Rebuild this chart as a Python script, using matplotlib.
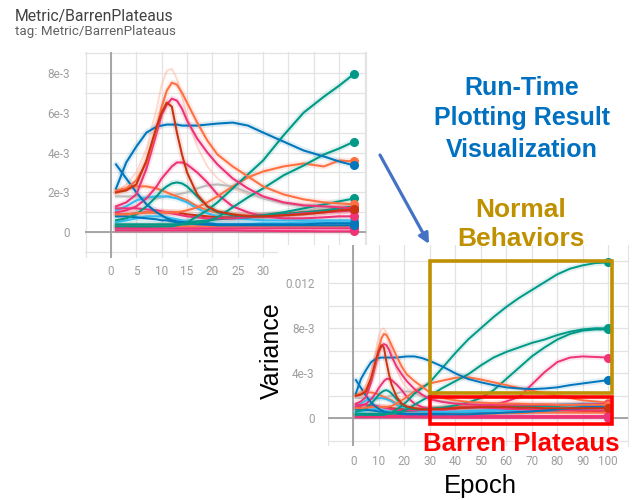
import numpy as np
import matplotlib
matplotlib.use("Agg")
import matplotlib.pyplot as plt
from matplotlib.patches import Rectangle

# ---------------- palette (TensorBoard run colours) ----------------
ORANGE, BLUE, RED, CYAN = "#ff7043", "#0077bb", "#cc3311", "#33bbee"
MAGENTA, TEAL, GREY, PEACH = "#ee3377", "#009988", "#bbbbbb", "#ffab91"

# ---------------- top snapshot (epochs 1..48), values in 1e-3 ----------------
T_EP = [1, 3, 5, 7, 9, 10, 11, 12, 13, 14, 15, 17, 19, 21, 24, 27, 30, 34, 38, 42, 45, 48]
t_orange_peak = [2.0, 2.2, 2.6, 3.5, 5.2, 6.3, 7.1, 7.5, 7.4, 7.0, 6.5, 5.5, 4.6, 3.9, 3.3, 2.8, 2.3, 1.9, 1.65, 1.5, 1.45, 1.4]
t_raw_peak = [2.0, 2.4, 3.0, 4.2, 6.2, 7.4, 8.1, 8.2, 7.7, 6.8, 5.8, 4.3, 3.3, 2.7, 2.2, 1.9, 1.7, 1.5, 1.4, 1.35, 1.3, 1.3]
t_red_peak = [2.0, 2.1, 2.4, 3.6, 5.3, 6.0, 6.5, 6.3, 5.0, 3.9, 3.0, 1.9, 1.3, 1.05, 0.9, 0.8, 0.8, 0.85, 0.9, 1.0, 1.1, 1.15]
t_magenta_peak = [1.3, 1.5, 1.9, 3.2, 5.0, 5.9, 6.4, 6.7, 6.6, 6.2, 5.6, 4.7, 4.0, 3.4, 2.7, 2.2, 1.8, 1.5, 1.35, 1.3, 1.25, 1.2]
t_magenta_bump = [1.0, 1.1, 1.3, 1.7, 2.3, 2.7, 3.0, 3.3, 3.5, 3.5, 3.4, 3.0, 2.5, 1.9, 1.3, 1.0, 0.8, 0.7, 0.7, 0.75, 0.8, 0.8]
t_blue_hump = [2.2, 3.5, 4.3, 5.0, 5.3, 5.35, 5.4, 5.4, 5.4, 5.35, 5.35, 5.35, 5.4, 5.45, 5.5, 5.35, 5.0, 4.55, 4.1, 3.8, 3.55, 3.35]
t_blue_drop = [3.4, 2.7, 2.0, 1.4, 1.0, 0.85, 0.7, 0.6, 0.55, 0.5, 0.45, 0.4, 0.38, 0.35, 0.35, 0.35, 0.35, 0.35, 0.35, 0.35, 0.35, 0.35]
t_teal_fast = [0.3, 0.3, 0.3, 0.3, 0.3, 0.3, 0.3, 0.3, 0.35, 0.4, 0.5, 0.8, 1.1, 1.5, 2.2, 2.9, 3.6, 4.85, 6.0, 6.8, 7.35, 7.95]
t_teal_slow = [0.4, 0.4, 0.4, 0.4, 0.4, 0.4, 0.4, 0.4, 0.4, 0.4, 0.4, 0.45, 0.55, 0.75, 1.25, 1.75, 2.2, 2.85, 3.35, 3.9, 4.2, 4.55]
t_orange_rise = [0.9, 0.9, 0.95, 1.0, 1.0, 1.0, 1.0, 1.0, 1.0, 1.05, 1.1, 1.25, 1.5, 1.8, 2.3, 2.75, 3.05, 3.3, 3.45, 3.3, 3.6, 3.55]
t_teal_bump = [0.6, 0.7, 0.9, 1.3, 1.8, 2.1, 2.3, 2.45, 2.5, 2.45, 2.3, 1.8, 1.3, 1.0, 0.85, 0.8, 0.85, 1.0, 1.2, 1.4, 1.55, 1.7]
t_grey = [1.8, 1.8, 1.8, 1.7, 1.7, 1.75, 1.8, 1.85, 1.9, 1.95, 2.0, 2.2, 2.35, 2.4, 2.3, 2.0, 1.7, 1.45, 1.3, 1.25, 1.2, 1.2]
t_orange_flat = [2.1, 2.2, 2.3, 2.3, 2.2, 2.1, 2.0, 1.9, 1.8, 1.7, 1.6, 1.3, 1.1, 1.0, 0.9, 0.85, 0.85, 0.9, 1.0, 1.1, 1.2, 1.25]
t_cyan = [1.1, 1.3, 1.6, 1.75, 1.8, 1.8, 1.8, 1.75, 1.7, 1.6, 1.5, 1.2, 0.95, 0.8, 0.7, 0.65, 0.6, 0.6, 0.6, 0.6, 0.6, 0.6]
t_red_low = [0.9, 0.9, 0.95, 1.0, 1.0, 1.0, 1.0, 1.0, 1.0, 0.95, 0.9, 0.85, 0.8, 0.75, 0.75, 0.8, 0.85, 0.9, 1.0, 1.05, 1.1, 1.1]
t_cyan_low = [0.5, 0.6, 0.7, 0.8, 0.8, 0.8, 0.75, 0.7, 0.65, 0.6, 0.55, 0.5, 0.45, 0.4, 0.4, 0.4, 0.45, 0.45, 0.5, 0.5, 0.5, 0.5]
t_blue_low = [0.8, 0.8, 0.75, 0.7, 0.65, 0.6, 0.6, 0.55, 0.5, 0.5, 0.5, 0.45, 0.45, 0.4, 0.4, 0.4, 0.4, 0.4, 0.4, 0.45, 0.45, 0.45]
t_teal_low = [0.2, 0.2, 0.2, 0.25, 0.3, 0.3, 0.35, 0.35, 0.4, 0.45, 0.5, 0.55, 0.6, 0.65, 0.7, 0.75, 0.8, 0.9, 1.0, 1.1, 1.2, 1.3]
t_magenta_mid = [1.2, 1.2, 1.2, 1.15, 1.1, 1.05, 1.0, 0.95, 0.9, 0.85, 0.8, 0.75, 0.7, 0.7, 0.7, 0.75, 0.8, 0.85, 0.95, 1.0, 1.05, 1.1]
t_orange_low = [0.35, 0.35, 0.35, 0.35, 0.35, 0.35, 0.35, 0.35, 0.3, 0.3, 0.3, 0.3, 0.3, 0.3, 0.3, 0.3, 0.3, 0.3, 0.3, 0.3, 0.3, 0.3]
t_pink_low = [0.22, 0.22, 0.2, 0.2, 0.2, 0.2, 0.2, 0.2, 0.2, 0.2, 0.2, 0.2, 0.2, 0.2, 0.2, 0.2, 0.2, 0.2, 0.2, 0.2, 0.2, 0.2]
t_magenta_low = [0.1, 0.1, 0.1, 0.1, 0.1, 0.1, 0.1, 0.1, 0.1, 0.1, 0.1, 0.1, 0.1, 0.1, 0.1, 0.08, 0.08, 0.06, 0.06, 0.05, 0.05, 0.05]

# ---------------- bottom (epochs 1..100), values in 1e-3 ----------------
B_EP = [1, 3, 5, 7, 9, 10, 11, 12, 13, 14, 15, 17, 19, 21, 24, 27, 30,
        35, 40, 45, 50, 55, 60, 65, 70, 75, 80, 85, 90, 95, 100]
b_orange_peak = [2.0, 2.2, 2.6, 3.5, 5.2, 6.3, 7.1, 7.5, 7.4, 7.0, 6.5, 5.5, 4.6, 3.9, 3.3, 2.8, 2.3,
                 1.8, 1.6, 1.45, 1.4, 1.35, 1.3, 1.3, 1.25, 1.25, 1.2, 1.2, 1.2, 1.2, 1.2]
b_raw_peak = [2.0, 2.4, 3.0, 4.2, 6.2, 7.4, 7.9, 8.0, 7.6, 6.8, 5.8, 4.3, 3.3, 2.7, 2.2, 1.9, 1.7,
              1.5, 1.4, 1.35, 1.3, 1.3, 1.3, 1.25, 1.25, 1.2, 1.2, 1.2, 1.2, 1.2, 1.2]
b_red_peak = [2.0, 2.1, 2.4, 3.6, 5.3, 6.0, 6.5, 6.3, 5.0, 3.9, 3.0, 1.9, 1.3, 1.05, 0.9, 0.8, 0.8,
              0.85, 0.9, 0.95, 1.0, 1.0, 1.0, 0.95, 0.95, 0.9, 0.9, 0.9, 0.9, 0.9, 0.9]
b_magenta_peak = [1.3, 1.5, 1.9, 3.2, 5.0, 5.9, 6.4, 6.6, 6.5, 6.1, 5.5, 4.6, 3.9, 3.3, 2.6, 2.1, 1.7,
                  1.45, 1.3, 1.25, 1.2, 1.2, 1.2, 1.2, 1.2, 1.2, 1.2, 1.2, 1.25, 1.25, 1.3]
b_magenta_rise = [1.0, 1.1, 1.3, 1.7, 2.3, 2.7, 3.0, 3.3, 3.5, 3.5, 3.4, 3.0, 2.5, 1.9, 1.3, 1.0, 0.8,
                  0.75, 0.85, 1.0, 1.1, 1.2, 1.5, 1.9, 3.0, 4.1, 5.0, 5.4, 5.5, 5.45, 5.4]
b_blue_hump = [2.2, 3.5, 4.3, 5.0, 5.3, 5.35, 5.4, 5.4, 5.4, 5.4, 5.4, 5.4, 5.45, 5.5, 5.5, 5.35, 5.1,
               4.6, 4.0, 3.5, 3.2, 2.95, 2.75, 2.65, 2.6, 2.65, 2.75, 2.95, 3.1, 3.25, 3.4]
b_blue_drop = [3.4, 2.7, 2.0, 1.4, 1.0, 0.85, 0.7, 0.6, 0.55, 0.5, 0.45, 0.4, 0.38, 0.35, 0.35, 0.35, 0.35,
               0.35, 0.35, 0.35, 0.4, 0.45, 0.5, 0.55, 0.6, 0.7, 0.8, 0.9, 1.0, 1.05, 1.1]
b_teal_fast = [0.3, 0.3, 0.3, 0.3, 0.3, 0.3, 0.3, 0.3, 0.35, 0.4, 0.5, 0.8, 1.1, 1.5, 2.2, 2.7, 3.2,
               4.5, 5.8, 7.0, 8.0, 9.0, 9.9, 10.7, 11.4, 12.1, 12.8, 13.3, 13.6, 13.8, 13.85]
b_teal_slow = [0.4, 0.4, 0.4, 0.4, 0.4, 0.4, 0.4, 0.4, 0.4, 0.4, 0.4, 0.5, 0.6, 0.8, 1.2, 1.6, 2.0,
               2.7, 3.3, 3.9, 4.7, 5.4, 5.9, 6.3, 6.7, 7.0, 7.4, 7.7, 7.9, 8.0, 8.0]
b_teal_late = [0.6, 0.7, 0.9, 1.3, 1.8, 2.1, 2.3, 2.45, 2.5, 2.4, 2.2, 1.7, 1.2, 0.95, 0.8, 0.8, 0.85,
               0.95, 1.15, 1.4, 1.8, 2.5, 3.5, 4.5, 5.5, 6.3, 7.0, 7.5, 7.8, 7.9, 7.9]
b_orange_rise = [0.9, 0.9, 0.95, 1.0, 1.0, 1.0, 1.0, 1.0, 1.0, 1.05, 1.1, 1.3, 1.6, 1.9, 2.4, 2.8, 3.1,
                 3.35, 3.6, 3.65, 3.45, 3.2, 2.95, 2.7, 2.45, 2.25, 2.0, 1.8, 1.6, 1.5, 1.4]
b_grey = [1.8, 1.8, 1.8, 1.7, 1.7, 1.75, 1.8, 1.85, 1.9, 1.95, 2.0, 2.2, 2.35, 2.4, 2.3, 2.0, 1.7,
          1.5, 1.35, 1.3, 1.25, 1.2, 1.15, 1.1, 1.1, 1.05, 1.05, 1.0, 1.0, 1.0, 1.0]
b_orange_flat = [2.1, 2.2, 2.3, 2.3, 2.2, 2.1, 2.0, 1.9, 1.8, 1.7, 1.6, 1.3, 1.1, 1.0, 0.9, 0.85, 0.85,
                 0.9, 1.0, 1.05, 1.1, 1.1, 1.1, 1.05, 1.0, 1.0, 0.95, 0.95, 0.9, 0.9, 0.9]
b_cyan = [1.1, 1.3, 1.6, 1.75, 1.8, 1.8, 1.8, 1.75, 1.7, 1.6, 1.5, 1.2, 0.95, 0.8, 0.7, 0.65, 0.6,
          0.6, 0.6, 0.65, 0.7, 0.75, 0.8, 0.9, 1.0, 1.1, 1.2, 1.25, 1.3, 1.3, 1.3]
b_red_low = [0.9, 0.9, 0.95, 1.0, 1.0, 1.0, 1.0, 1.0, 1.0, 0.95, 0.9, 0.85, 0.8, 0.75, 0.75, 0.8, 0.85,
             0.9, 0.95, 1.0, 1.0, 0.95, 0.9, 0.85, 0.8, 0.75, 0.7, 0.7, 0.65, 0.65, 0.6]
b_cyan_low = [0.5, 0.6, 0.7, 0.8, 0.8, 0.8, 0.75, 0.7, 0.65, 0.6, 0.55, 0.5, 0.45, 0.4, 0.4, 0.4, 0.45,
              0.5, 0.5, 0.55, 0.6, 0.65, 0.7, 0.75, 0.8, 0.85, 0.9, 0.95, 1.0, 1.05, 1.1]
b_blue_low = [0.8, 0.8, 0.75, 0.7, 0.65, 0.6, 0.6, 0.55, 0.5, 0.5, 0.5, 0.45, 0.45, 0.4, 0.4, 0.4, 0.4,
              0.4, 0.4, 0.4, 0.45, 0.45, 0.5, 0.55, 0.6, 0.65, 0.7, 0.8, 0.85, 0.9, 0.95]
b_teal_low = [0.2, 0.2, 0.2, 0.25, 0.3, 0.3, 0.35, 0.35, 0.4, 0.45, 0.5, 0.55, 0.6, 0.65, 0.7, 0.75, 0.8,
              0.85, 0.9, 0.95, 1.0, 1.0, 1.05, 1.05, 1.1, 1.1, 1.1, 1.15, 1.15, 1.2, 1.2]
b_magenta_mid = [1.2, 1.2, 1.2, 1.15, 1.1, 1.05, 1.0, 0.95, 0.9, 0.85, 0.8, 0.75, 0.7, 0.7, 0.7, 0.75, 0.8,
                 0.85, 0.9, 0.95, 0.95, 0.9, 0.85, 0.8, 0.8, 0.75, 0.75, 0.7, 0.7, 0.7, 0.7]
b_orange_low = [0.35, 0.35, 0.35, 0.35, 0.35, 0.35, 0.35, 0.35, 0.3, 0.3, 0.3, 0.3, 0.3, 0.3, 0.3, 0.3, 0.3,
                0.3, 0.35, 0.35, 0.4, 0.4, 0.45, 0.45, 0.5, 0.5, 0.5, 0.5, 0.5, 0.5, 0.5]
b_pink_low = [0.22, 0.22, 0.2, 0.2, 0.2, 0.2, 0.2, 0.2, 0.2, 0.2, 0.2, 0.2, 0.2, 0.2, 0.2, 0.2, 0.2,
              0.2, 0.2, 0.2, 0.2, 0.2, 0.2, 0.2, 0.2, 0.2, 0.2, 0.2, 0.2, 0.2, 0.2]
b_magenta_low = [0.1, 0.1, 0.1, 0.1, 0.1, 0.1, 0.1, 0.1, 0.1, 0.1, 0.1, 0.1, 0.1, 0.1, 0.1, 0.08, 0.08,
                 0.06, 0.06, 0.05, 0.05, 0.05, 0.05, 0.05, 0.05, 0.05, 0.05, 0.05, 0.05, 0.05, 0.05]

# ---------------- ticks / labels ----------------
T_XTICKS = [0, 5, 10, 15, 20, 25, 30, 35, 40, 45, 50]
T_YTICKS = [0, 2e-3, 4e-3, 6e-3, 8e-3]
T_YLABELS = ["0", "2e-3", "4e-3", "6e-3", "8e-3"]
T_YMINOR = [-1e-3, 1e-3, 3e-3, 5e-3, 7e-3, 9e-3]
B_XTICKS = [0, 10, 20, 30, 40, 50, 60, 70, 80, 90, 100]
B_YTICKS = [0, 4e-3, 8e-3, 0.012]
B_YLABELS = ["0", "4e-3", "8e-3", "0.012"]
B_YMINOR = [-2e-3, 2e-3, 6e-3, 10e-3, 14e-3]

TITLE = "Metric/BarrenPlateaus"
TAG = "tag: Metric/BarrenPlateaus"

top_series = [
    (t_raw_peak, PEACH, True), (t_grey, GREY, False), (t_orange_flat, ORANGE, False),
    (t_cyan, CYAN, False), (t_red_low, RED, False), (t_cyan_low, CYAN, False),
    (t_blue_low, BLUE, False), (t_teal_low, TEAL, False), (t_magenta_mid, MAGENTA, False),
    (t_orange_low, ORANGE, False), (t_pink_low, MAGENTA, False), (t_magenta_low, MAGENTA, False),
    (t_magenta_bump, MAGENTA, False), (t_teal_bump, TEAL, False), (t_orange_rise, ORANGE, False),
    (t_blue_drop, BLUE, False), (t_teal_slow, TEAL, False), (t_teal_fast, TEAL, False),
    (t_blue_hump, BLUE, False), (t_magenta_peak, MAGENTA, False), (t_orange_peak, ORANGE, False),
    (t_red_peak, RED, False),
]
bot_series = [
    (b_raw_peak, PEACH, True), (b_grey, GREY, False), (b_orange_flat, ORANGE, False),
    (b_cyan, CYAN, False), (b_red_low, RED, False), (b_cyan_low, CYAN, False),
    (b_blue_low, BLUE, False), (b_teal_low, TEAL, False), (b_magenta_mid, MAGENTA, False),
    (b_orange_low, ORANGE, False), (b_pink_low, MAGENTA, False), (b_magenta_low, MAGENTA, False),
    (b_magenta_rise, MAGENTA, False), (b_teal_late, TEAL, False), (b_orange_rise, ORANGE, False),
    (b_blue_drop, BLUE, False), (b_teal_slow, TEAL, False), (b_teal_fast, TEAL, False),
    (b_blue_hump, BLUE, False), (b_magenta_peak, MAGENTA, False), (b_orange_peak, ORANGE, False),
    (b_red_peak, RED, False),
]

# ---------------- figure ----------------
W, H = 643, 500
fig = plt.figure(figsize=(W / 100, H / 100), dpi=100, facecolor="white")
CHART_FONT = ["Roboto", "DejaVu Sans"]
ANN_FONT = ["Liberation Sans", "DejaVu Sans"]


def px_axes(x0, x1, y0, y1, z):
    ax = fig.add_axes([x0 / W, 1 - y1 / H, (x1 - x0) / W, (y1 - y0) / H])
    ax.set_zorder(z)
    return ax


def style_chart(ax, xticks, xminor, yticks, ylabels, yminor, fs, ypad, xpad):
    ax.set_facecolor("white")
    for s in ["left", "top", "bottom"]:
        ax.spines[s].set_visible(False)
    ax.spines["right"].set_color("#e3e3e3")
    ax.set_xticks(xticks)
    ax.set_xticklabels([str(t) for t in xticks], fontfamily=CHART_FONT, fontsize=fs, color="#9e9e9e")
    ax.set_xticks(xminor, minor=True)
    ax.set_yticks(yticks)
    ax.set_yticklabels(ylabels, fontfamily=CHART_FONT, fontsize=fs, color="#9e9e9e")
    ax.set_yticks(yminor, minor=True)
    ax.tick_params(which="both", length=0)
    ax.tick_params(axis="y", pad=ypad)
    ax.tick_params(axis="x", pad=xpad)
    ax.grid(True, which="both", color="#e3e3e3", lw=0.9, zorder=0)
    ax.set_axisbelow(True)
    ax.axhline(0, color="#a0a0a0", lw=1.3, zorder=1)
    ax.axvline(0, color="#a0a0a0", lw=1.3, zorder=1)


def draw_series(ax, ep, series, lw, ms):
    for vals, col, faint in series:
        y = np.array(vals) * 1e-3
        if faint:
            ax.plot(ep, y, color=col, lw=lw * 0.9, alpha=0.45, zorder=2)
            continue
        ax.plot(ep, y, color=col, lw=lw * 3.0, alpha=0.13, zorder=2, solid_capstyle="round")
        ax.plot(ep, y, color=col, lw=lw, zorder=3, solid_joinstyle="round")
        ax.plot(ep[-1], y[-1], "o", color=col, ms=ms, zorder=4, clip_on=False)


# --- top chart: px mapping x = 111 + 5.07*e, y = 232.3 - 19950*v
TX0, TSX, TY0, TSY = 111.0, 5.07, 232.3, 19950.0
tl, tr, tt, tb = 84.5, 366.0, 51.8, 258.0
ax_top = px_axes(tl, tr, tt, tb, 0)
ax_top.set_xlim((tl - TX0) / TSX, (tr - TX0) / TSX)
ax_top.set_ylim((TY0 - tb) / TSY, (TY0 - tt) / TSY)
style_chart(ax_top, T_XTICKS, [-5], T_YTICKS, T_YLABELS, T_YMINOR, 8.5, 10.5, 5)
draw_series(ax_top, T_EP, top_series, 1.5, 5.5)

fig.text(15 / W, 1 - 20.7 / H, TITLE, fontfamily=CHART_FONT, fontsize=11.3, color="#424242", va="baseline")
fig.text(15 / W, 1 - 35.5 / H, TAG, fontfamily=CHART_FONT, fontsize=9.6, color="#616161", va="baseline")

# --- white sheet of the second screenshot
fig.add_artist(Rectangle((278 / W, 0), 1 - 278 / W, 1 - 245 / H, transform=fig.transFigure,
                         facecolor="white", edgecolor="none", zorder=1))

# --- bottom chart: px mapping x = 353.3 + 2.55*e, y = 418.3 - 11250*v
BX0, BSX, BY0, BSY = 353.3, 2.55, 418.3, 11250.0
bl, br, bt, bb = 327.8, 628.0, 245.0, 446.0
ax_bot = px_axes(bl, br, bt, bb, 2)
ax_bot.set_xlim((bl - BX0) / BSX, (br - BX0) / BSX)
ax_bot.set_ylim((BY0 - bb) / BSY, (BY0 - bt) / BSY)
style_chart(ax_bot, B_XTICKS, [-10], B_YTICKS, B_YLABELS, B_YMINOR, 8.5, 9.5, 6.5)
draw_series(ax_bot, B_EP, bot_series, 1.4, 5.5)

# --- annotation overlay in pixel coordinates
ov = px_axes(0, W, 0, H, 3)
ov.set_xlim(0, W)
ov.set_ylim(H, 0)
ov.axis("off")

BLUE_TXT, GOLD, RED_TXT = "#0070c0", "#bf9000", "#ff0000"
for txt, yb in [("Run-Time", 95), ("Plotting Result", 125), ("Visualization", 157)]:
    ov.text(522, yb, txt, ha="center", va="baseline", fontfamily=ANN_FONT,
            fontweight="bold", fontsize=18, color=BLUE_TXT)
for txt, yb in [("Normal", 217), ("Behaviors", 246)]:
    ov.text(521, yb, txt, ha="center", va="baseline", fontfamily=ANN_FONT,
            fontweight="bold", fontsize=19, color=GOLD)
ov.text(521, 451, "Barren Plateaus", ha="center", va="baseline", fontfamily=ANN_FONT,
        fontweight="bold", fontsize=18.5, color=RED_TXT)
ov.text(272, 351, "Variance", ha="center", va="center", rotation=90, fontfamily=ANN_FONT,
        fontsize=18, color="black")
ov.text(480, 493, "Epoch", ha="center", va="baseline", fontfamily=ANN_FONT,
        fontsize=18.5, color="black")

ov.add_patch(Rectangle((430, 260.5), 182, 132, fill=False, edgecolor=GOLD, lw=2.6))
ov.add_patch(Rectangle((430, 396.5), 182, 27, fill=False, edgecolor=RED_TXT, lw=2.6))
ov.annotate("", xy=(429, 244), xytext=(380, 155),
            arrowprops=dict(arrowstyle="-|>", color="#4472c4", lw=2.3, mutation_scale=15,
                            shrinkA=0, shrinkB=0))

fig.savefig("out.png", dpi=100, facecolor="white")
